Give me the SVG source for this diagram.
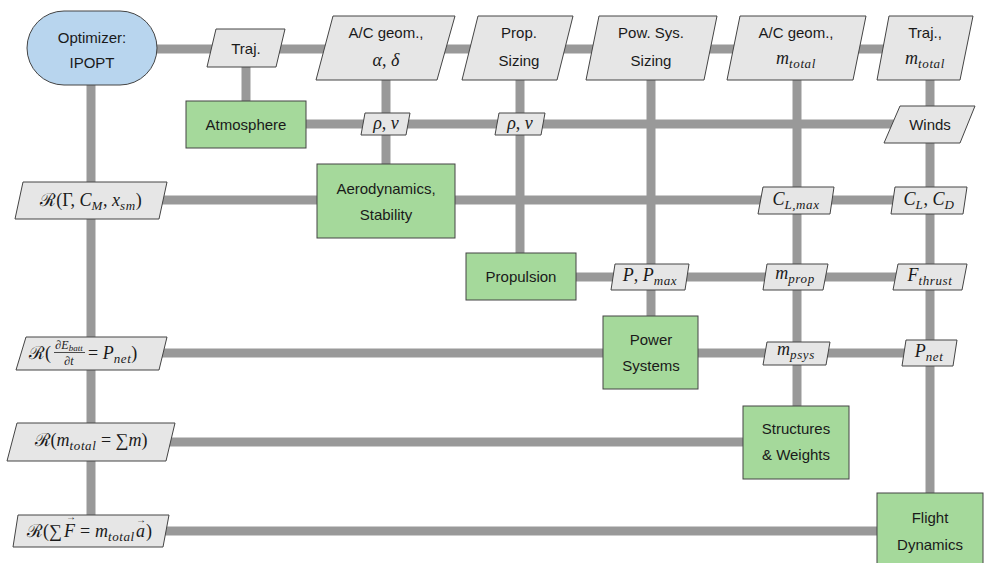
<svg xmlns="http://www.w3.org/2000/svg" width="984" height="563" viewBox="0 0 984 563">
<style>
.wire{stroke:#999;stroke-width:9;fill:none}
.para{fill:#e6e6e6;stroke:#444;stroke-width:1}
.comp{fill:#a5d99b;stroke:#444;stroke-width:1}
.opt{fill:#b8d5ee;stroke:#444;stroke-width:1}
.t{font-family:"Liberation Sans",Arial,sans-serif;font-size:15px;fill:#1a1a1a;text-anchor:middle}
.m{font-family:"Liberation Serif","Times New Roman",serif;font-style:italic;font-size:18px;fill:#1a1a1a;text-anchor:middle}
.st{text-anchor:start}
.s{font-size:13px;letter-spacing:0.6px}
.up{font-style:normal}
.ac{font-size:10px;font-style:normal}
</style>
<rect width="984" height="563" fill="#fff"/>
<g id="connectors">
<path class="wire" d="M92 49H930M246 124H930M91 200H930M520 277H930M91 353H930M91 442H797M91 531H930"/>
<path class="wire" d="M91 48V531M246 49V124M386 49V200M520 49V277M651 49V353M797 49V442M930 49V531"/>
</g>
<g id="optimizer"><rect class="opt" x="27" y="11" width="130" height="74" rx="37"/><text class="t" x="92" y="43">Optimizer:</text><text class="t" x="92" y="68">IPOPT</text></g>
<g id="traj"><polygon class="para" points="216,29 285,29 276,67 207,67"/><text class="t" x="246" y="54">Traj.</text></g>
<g id="acgeom1"><polygon class="para" points="333,16 455,16 437,80 316,80"/><text class="t" x="386" y="38">A/C geom.,</text><text class="m" x="386" y="66">α<tspan class="up">, </tspan>δ</text></g>
<g id="propsizing"><polygon class="para" points="478,16 573,16 557,80 462,80"/><text class="t" x="519" y="38">Prop.</text><text class="t" x="519" y="66">Sizing</text></g>
<g id="powsyssizing"><polygon class="para" points="599,16 717,16 704,80 586,80"/><text class="t" x="651" y="38">Pow. Sys.</text><text class="t" x="651" y="66">Sizing</text></g>
<g id="acgeom2"><polygon class="para" points="740,16 866,16 853,80 727,80"/><text class="t" x="796" y="38">A/C geom.,</text><text class="m" x="796" y="64">m<tspan class="s" dy="4">total</tspan></text></g>
<g id="traj2"><polygon class="para" points="889,16 973,16 960,80 877,80"/><text class="t" x="925" y="38">Traj.,</text><text class="m" x="925" y="64">m<tspan class="s" dy="4">total</tspan></text></g>
<g id="atmosphere"><rect class="comp" x="186" y="101" width="120" height="47"/><text class="t" x="246" y="130">Atmosphere</text></g>
<g id="rhonu1"><polygon class="para" points="365,113 410,113 406,135 361,135"/><text class="m" x="386" y="129">ρ<tspan class="up">, </tspan>ν</text></g>
<g id="rhonu2"><polygon class="para" points="499,113 545,113 541,135 495,135"/><text class="m" x="520" y="129">ρ<tspan class="up">, </tspan>ν</text></g>
<g id="winds"><polygon class="para" points="900,106 975,106 960,143 884,143"/><text class="t" x="930" y="130">Winds</text></g>
<g id="r1"><polygon class="para" points="23,182 167,182 159,219 15,219"/><text class="m" x="91" y="206"><tspan class="up">ℛ(Γ, </tspan>C<tspan class="s" dy="4">M</tspan><tspan dy="-4" class="up">, </tspan>x<tspan class="s" dy="4">sm</tspan><tspan class="up" dy="-4">)</tspan></text></g>
<g id="aero"><rect class="comp" x="317" y="164" width="138" height="74"/><text class="t" x="386" y="194">Aerodynamics,</text><text class="t" x="386" y="220">Stability</text></g>
<g id="clmax"><polygon class="para" points="763,187 834,187 830,214 758,214"/><text class="m" x="796" y="205">C<tspan class="s" dy="4">L,max</tspan></text></g>
<g id="clcd"><polygon class="para" points="895,187 967,187 963,214 891,214"/><text class="m" x="929" y="205">C<tspan class="s" dy="4">L</tspan><tspan class="up" dy="-4">, </tspan>C<tspan class="s" dy="4">D</tspan></text></g>
<g id="propulsion"><rect class="comp" x="466" y="253" width="110" height="47"/><text class="t" x="521" y="282">Propulsion</text></g>
<g id="ppmax"><polygon class="para" points="615,264 689,264 685,290 611,290"/><text class="m" x="650" y="281">P<tspan class="up">, </tspan>P<tspan class="s" dy="4">max</tspan></text></g>
<g id="mprop"><polygon class="para" points="767,264 828,264 823,290 763,290"/><text class="m" x="795" y="279">m<tspan class="s" dy="4">prop</tspan></text></g>
<g id="fthrust"><polygon class="para" points="898,264 967,264 962,290 893,290"/><text class="m" x="930" y="281">F<tspan class="s" dy="4">thrust</tspan></text></g>
<g id="r2"><polygon class="para" points="26,337 167,337 159,370 16,370"/>
<text class="m st" x="29" y="359"><tspan class="up">ℛ(</tspan></text>
<text class="m" x="69" y="349" style="font-size:12px">∂E<tspan style="font-size:9px" dy="2">batt</tspan></text>
<line x1="54" y1="352.5" x2="85" y2="352.5" stroke="#222" stroke-width="0.8"/>
<text class="m" x="69" y="365" style="font-size:12px">∂t</text>
<text class="m st" x="88" y="359"><tspan class="up">= </tspan>P<tspan class="s" dy="4">net</tspan><tspan class="up" dy="-4">)</tspan></text></g>
<g id="powersystems"><rect class="comp" x="603" y="316" width="95" height="73"/><text class="t" x="651" y="345">Power</text><text class="t" x="651" y="371">Systems</text></g>
<g id="mpsys"><polygon class="para" points="767,342 830,342 826,365 763,365"/><text class="m" x="796" y="355">m<tspan class="s" dy="4">psys</tspan></text></g>
<g id="pnet"><polygon class="para" points="906,340 957,340 953,366 902,366"/><text class="m" x="929" y="357">P<tspan class="s" dy="4">net</tspan></text></g>
<g id="r3"><polygon class="para" points="17,423 175,423 166,461 7,461"/><text class="m" x="91" y="446"><tspan class="up">ℛ(</tspan>m<tspan class="s" dy="4">total</tspan><tspan class="up" dy="-4"> = ∑</tspan>m<tspan class="up">)</tspan></text></g>
<g id="structures"><rect class="comp" x="743" y="406" width="106" height="73"/><text class="t" x="796" y="434">Structures</text><text class="t" x="796" y="460">&amp; Weights</text></g>
<g id="r4"><polygon class="para" points="18,515 169,515 163,547 13,547"/>
<text class="m st" x="27" y="537"><tspan class="up">ℛ(∑</tspan></text>
<text class="m st" x="64" y="537">F</text>
<text class="m ac" x="71" y="520">→</text>
<text class="m st" x="80" y="537"><tspan class="up">=</tspan></text>
<text class="m st" x="95" y="537">m<tspan class="s" dy="4">total</tspan></text>
<text class="m st" x="136" y="537">a</text>
<text class="m ac" x="141" y="523">→</text>
<text class="m st" x="146" y="537"><tspan class="up">)</tspan></text></g>
<g id="flightdynamics"><rect class="comp" x="877" y="493" width="106" height="80"/><text class="t" x="930" y="523">Flight</text><text class="t" x="930" y="550">Dynamics</text></g>
</svg>
